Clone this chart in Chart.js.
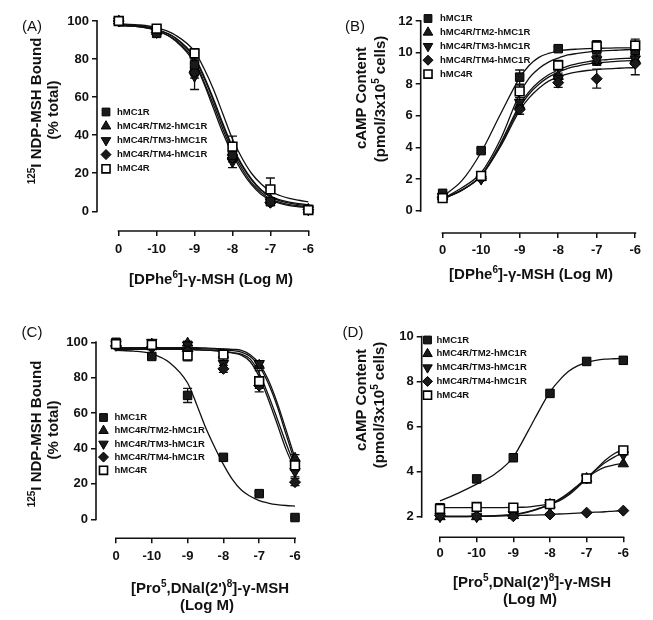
<!DOCTYPE html>
<html>
<head>
<meta charset="utf-8">
<title>MC receptor chimeras</title>
<script src="https://cdn.jsdelivr.net/npm/chart.js@4.4.1/dist/chart.umd.min.js"></script>
<style>
  html, body { margin: 0; padding: 0; background: #fff; }
  body { position: relative; width: 653px; height: 620px; overflow: hidden; font-family: "Liberation Sans", Arial, sans-serif; color: #111; }
  canvas { position: absolute; }
  .txt { position: absolute; white-space: nowrap; transform: translate(-50%, -50%); line-height: 1; }
  .tag { font-size: 15px; }
  .ttl { font-size: 15px; font-weight: bold; }
  .rot { transform: translate(-50%, -50%) rotate(-90deg); }
  sup { font-size: 10px; line-height: 0; vertical-align: 0.6em; }
</style>
</head>
<body>
<canvas id="cA" width="326" height="300" style="left:0;top:0"></canvas>
<canvas id="cB" width="323" height="300" style="left:330px;top:0"></canvas>
<canvas id="cC" width="326" height="310" style="left:0;top:310px"></canvas>
<canvas id="cD" width="323" height="310" style="left:330px;top:310px"></canvas>

<div class="txt tag" style="left:32px;top:25px">(A)</div>
<div class="txt ttl rot" style="left:35px;top:111px"><sup>125</sup>I NDP-MSH Bound</div>
<div class="txt ttl rot" style="left:52px;top:110px">(% total)</div>
<div class="txt ttl" style="left:211px;top:278px">[DPhe<sup>6</sup>]-γ-MSH (Log M)</div>

<div class="txt tag" style="left:355px;top:25px">(B)</div>
<div class="txt ttl rot" style="left:360px;top:98px">cAMP Content</div>
<div class="txt ttl rot" style="left:379px;top:99px">(pmol/3x10<sup>5</sup> cells)</div>
<div class="txt ttl" style="left:531px;top:273px">[DPhe<sup>6</sup>]-γ-MSH (Log M)</div>

<div class="txt tag" style="left:32px;top:331px">(C)</div>
<div class="txt ttl rot" style="left:35px;top:434px"><sup>125</sup>I NDP-MSH Bound</div>
<div class="txt ttl rot" style="left:52px;top:430px">(% total)</div>
<div class="txt ttl" style="left:210px;top:587px">[Pro<sup>5</sup>,DNal(2')<sup>8</sup>]-γ-MSH</div>
<div class="txt ttl" style="left:207px;top:604px">(Log M)</div>

<div class="txt tag" style="left:353px;top:331px">(D)</div>
<div class="txt ttl rot" style="left:360px;top:400px">cAMP Content</div>
<div class="txt ttl rot" style="left:378px;top:405px">(pmol/3x10<sup>5</sup> cells)</div>
<div class="txt ttl" style="left:532px;top:581px">[Pro<sup>5</sup>,DNal(2')<sup>8</sup>]-γ-MSH</div>
<div class="txt ttl" style="left:530px;top:598px">(Log M)</div>

<script>
  // broken x axis: slot 0 is "no ligand", then -10 .. -6 log M
  var dosePos = [0, 1, 2, 3, 4, 5];
  var doseLabels = ['0', '-10', '-9', '-8', '-7', '-6'];
  var fitPos = [0, 0.5, 1, 1.5, 2, 2.25, 2.5, 2.75, 3, 3.25, 3.5, 3.75, 4, 4.25, 4.5, 4.75, 5];

  var seriesNames = ['hMC1R', 'hMC4R/TM2-hMC1R', 'hMC4R/TM3-hMC1R', 'hMC4R/TM4-hMC1R', 'hMC4R'];

  // (A) binding, [DPhe6]-γ-MSH
  var aMC1R = [100, 93.5, 77, 29.5, 5, 1];
  var aTM2  = [100, 94.5, 75, 31, 6, 1];
  var aTM3  = [100, 94, 71, 26, 5, 0.8];
  var aTM4  = [100, 94, 73, 28, 4.5, 0.8];
  var aMC4R = [100, 96, 83, 34, 11.5, 0.7];
  var aMC1Rerr = [0, 1.5, 3, 2, 1, 0];
  var aTM2err  = [0, 1, 3, 2, 1, 0];
  var aTM3err  = [0, 1.5, 7, 3, 1, 0];
  var aTM4err  = [0, 1, 3, 2, 1, 0];
  var aMC4Rerr = [0, 1, 2.5, 5.5, 6, 0.5];
  var aMC1Rfit = [98, 97.5, 95.5, 91, 81, 71, 59, 46, 34, 24.5, 17, 11.5, 8, 6, 4.8, 4, 3.5];
  var aTM2fit  = [98, 97.5, 95.5, 91, 80.5, 70, 58, 45, 33, 24, 16.5, 11, 7.5, 5.5, 4.3, 3.5, 3];
  var aTM3fit  = [97.5, 97, 95, 89.5, 78, 67, 54, 41, 30, 21, 14, 9, 6, 4.2, 3, 2.4, 2];
  var aTM4fit  = [97.5, 97, 95, 90, 79, 68, 56, 43, 31.5, 22.5, 15, 10, 6.5, 4.7, 3.5, 2.9, 2.5];
  var aMC4Rfit = [98.5, 98, 96.5, 92.5, 84, 75, 64, 51, 38, 28, 20, 14.5, 10.5, 8.3, 6.8, 5.8, 5];

  // (B) cAMP, [DPhe6]-γ-MSH
  var bMC1R = [1.1, 3.8, 8.45, 10.25, 10.2, 10.15];
  var bTM2  = [0.9, 2.1, 6.65, 8.5, 9.5, 9.55];
  var bTM3  = [0.9, 2.0, 6.85, 8.35, 9.55, 9.6];
  var bTM4  = [0.85, 2.05, 6.4, 8.1, 8.35, 9.3];
  var bMC4R = [0.8, 2.2, 7.55, 9.2, 10.4, 10.45];
  var bMC1Rerr = [0.1, 0.15, 0.45, 0.15, 0.2, 0.2];
  var bTM2err  = [0.1, 0.1, 0.3, 0.2, 0.3, 0.3];
  var bTM3err  = [0.1, 0.1, 0.3, 0.25, 0.3, 0.3];
  var bTM4err  = [0.1, 0.1, 0.3, 0.3, 0.6, 0.7];
  var bMC4Rerr = [0.1, 0.1, 0.4, 0.3, 0.35, 0.4];
  var bMC1Rfit = [0.9, 1.9, 3.7, 6.1, 8.4, 9.2, 9.7, 9.95, 10.1, 10.18, 10.22, 10.25, 10.27, 10.28, 10.3, 10.3, 10.3];
  var bTM2fit  = [0.75, 1.3, 2.2, 4.15, 6.55, 7.4, 8.0, 8.45, 8.75, 9.0, 9.15, 9.27, 9.35, 9.4, 9.45, 9.48, 9.5];
  var bTM3fit  = [0.75, 1.3, 2.25, 4.25, 6.7, 7.55, 8.15, 8.6, 8.9, 9.15, 9.3, 9.42, 9.5, 9.55, 9.6, 9.63, 9.65];
  var bTM4fit  = [0.75, 1.3, 2.2, 4.05, 6.35, 7.15, 7.75, 8.2, 8.45, 8.65, 8.78, 8.87, 8.93, 8.97, 9.0, 9.03, 9.05];
  var bMC4Rfit = [0.75, 1.45, 2.4, 4.5, 7.4, 8.4, 9.0, 9.4, 9.65, 9.85, 9.95, 10.03, 10.1, 10.12, 10.15, 10.18, 10.2];

  // (C) binding, [Pro5,DNal(2')8]-γ-MSH
  var cMC1R = [100, 92, 70, 35, 14.5, 1];
  var cTM2  = [99, 99, 99.5, 93, 87, 34.5];
  var cTM3  = [99, 100, 98.5, 88, 88, 27];
  var cTM4  = [98, 97, 95, 85, 75.5, 21];
  var cMC4R = [99, 98.5, 92.5, 93, 78, 30.5];
  var cMC1Rerr = [0, 1, 4, 1, 1, 0.5];
  var cTM2err  = [0, 1, 1, 1, 1.5, 2];
  var cTM3err  = [0, 1, 2, 3, 1.5, 3];
  var cTM4err  = [0, 1, 1, 2, 1.5, 2];
  var cMC4Rerr = [0, 1, 3, 1.5, 6, 3];
  var cMC1Rfit = [95.5, 95, 93.5, 88.5, 77, 65, 52, 41, 31, 22.5, 16.5, 13, 10.5, 9.2, 8.3, 7.8, 7.5];
  var cTM2fit  = [97, 97, 97, 97, 97, 97, 96.8, 96.6, 96.3, 96, 95.5, 93, 88, 79, 66, 50.5, 34.5];
  var cTM3fit  = [96.5, 96.5, 96.5, 96.5, 96.5, 96.4, 96.3, 96.1, 95.8, 95.3, 94.5, 92, 86.5, 77, 64, 48, 32];
  var cTM4fit  = [96, 96, 96, 96, 96, 95.8, 95.6, 95.3, 94.8, 94, 92.8, 89, 80.5, 68, 54, 39.5, 28];
  var cMC4Rfit = [96, 96, 96, 96, 96, 95.8, 95.6, 95.3, 94.8, 94.2, 93.3, 90.5, 82.5, 70.5, 57, 43, 30];

  // (D) cAMP, [Pro5,DNal(2')8]-γ-MSH
  var dMC1R = [2.4, 3.68, 4.62, 7.48, 8.9, 8.95];
  var dTM2  = [2.0, 2.0, 2.05, 2.55, 3.7, 4.35];
  var dTM3  = [2.0, 2.0, 2.1, 2.5, 3.72, 4.75];
  var dTM4  = [2.05, 2.02, 2.02, 2.1, 2.18, 2.27];
  var dMC4R = [2.35, 2.43, 2.4, 2.56, 3.7, 4.95];
  var dMC1Rerr = [0, 0, 0, 0, 0, 0];
  var dTM2err  = [0, 0, 0, 0, 0, 0];
  var dTM3err  = [0, 0, 0, 0, 0, 0];
  var dTM4err  = [0, 0, 0, 0, 0, 0];
  var dMC4Rerr = [0, 0, 0, 0, 0, 0];
  var dMC1Rfit = [2.7, 3.05, 3.45, 3.9, 4.65, 5.35, 6.1, 6.85, 7.55, 8.05, 8.45, 8.7, 8.86, 8.95, 9.0, 9.02, 9.04];
  var dTM2fit  = [2.0, 2.0, 2.02, 2.05, 2.1, 2.17, 2.27, 2.4, 2.55, 2.75, 3.0, 3.35, 3.7, 4.0, 4.2, 4.3, 4.37];
  var dTM3fit  = [2.0, 2.0, 2.01, 2.03, 2.08, 2.15, 2.25, 2.38, 2.55, 2.77, 3.05, 3.38, 3.72, 4.08, 4.4, 4.65, 4.85];
  var dTM4fit  = [2.02, 2.02, 2.03, 2.04, 2.05, 2.06, 2.07, 2.08, 2.1, 2.12, 2.14, 2.16, 2.18, 2.2, 2.22, 2.25, 2.27];
  var dMC4Rfit = [2.4, 2.4, 2.4, 2.4, 2.41, 2.42, 2.45, 2.5, 2.58, 2.7, 2.95, 3.3, 3.7, 4.1, 4.5, 4.8, 4.98];

  var FONT = '"Liberation Sans", Arial, sans-serif';
  Chart.defaults.font.family = FONT;
  Chart.defaults.color = '#111';

  // marker per series: filled square, triangle, inverted triangle, diamond, open square
  var markStyle = ['rect', 'triangle', 'triangle', 'rectRot', 'rect'];
  var markRot   = [0, 0, 180, 0, 0];
  var markSize  = [6, 6, 6, 5.5, 6.2];
  var markFill  = ['#1a1a1a', '#1a1a1a', '#1a1a1a', '#1a1a1a', '#ffffff'];
  var markEdge  = [1, 1, 1, 1, 1.6];
  var drawOrder = [4, 0, 3, 2, 1]; // open square on top

  function toXY(xs, ys) {
    return ys.map(function(v, i) { return { x: xs[i], y: v }; });
  }

  var errorBars = {
    id: 'errorBars',
    beforeDatasetsDraw: function(chart) {
      var ctx = chart.ctx, xs = chart.scales.x, ys = chart.scales.y;
      ctx.save();
      ctx.strokeStyle = '#111';
      ctx.lineWidth = 1.3;
      chart.data.datasets.forEach(function(ds) {
        if (!ds.errors) return;
        ds.data.forEach(function(pt, i) {
          var e = ds.errors[i];
          if (!e) return;
          var px = xs.getPixelForValue(pt.x);
          var top = ys.getPixelForValue(pt.y + e), bot = ys.getPixelForValue(pt.y - e);
          ctx.beginPath();
          ctx.moveTo(px, top); ctx.lineTo(px, bot);
          ctx.moveTo(px - 4.5, top); ctx.lineTo(px + 4.5, top);
          ctx.moveTo(px - 4.5, bot); ctx.lineTo(px + 4.5, bot);
          ctx.stroke();
        });
      });
      ctx.restore();
    }
  };

  // the axes in the figure are detached: y line spans only the ticks, x line sits lower
  var axisLines = {
    id: 'axisLines',
    afterDraw: function(chart, args, o) {
      var ctx = chart.ctx, xs = chart.scales.x, ys = chart.scales.y, ca = chart.chartArea;
      ctx.save();
      ctx.strokeStyle = '#111';
      ctx.lineWidth = 1.6;
      ctx.beginPath();
      ctx.moveTo(ca.left, ys.getPixelForValue(o.yTo) - 1);
      ctx.lineTo(ca.left, ys.getPixelForValue(o.yFrom) + 1);
      ctx.moveTo(xs.getPixelForValue(dosePos[0]) - 1, ca.bottom);
      ctx.lineTo(xs.getPixelForValue(dosePos[dosePos.length - 1]) + 1, ca.bottom);
      ctx.stroke();
      ctx.restore();
    }
  };

  var inLegend = {
    id: 'inLegend',
    afterDatasetsDraw: function(chart, args, o) {
      var ctx = chart.ctx;
      ctx.save();
      ctx.font = 'bold 9.5px ' + FONT;
      ctx.textBaseline = 'middle';
      seriesNames.forEach(function(name, i) {
        var y = o.y + i * o.step;
        ctx.fillStyle = markFill[i];
        ctx.strokeStyle = '#000';
        ctx.lineWidth = markEdge[i];
        Chart.helpers.drawPoint(ctx, {
          pointStyle: markStyle[i], radius: markSize[i] - 0.5, rotation: markRot[i], borderWidth: markEdge[i]
        }, o.x, y);
        ctx.fillStyle = '#111';
        ctx.fillText(name, o.textX, y);
      });
      ctx.restore();
    }
  };

  function panel(id, box, pts, errs, fits, yTicks, leg) {
    var ux = (box.xPix[1] - box.xPix[0]) / 5;
    var uy = (box.yPix[0] - box.yPix[1]) / (box.yVal[1] - box.yVal[0]);
    var xMin = (box.l - box.xPix[0]) / ux;
    var xMax = (box.r - box.xPix[0]) / ux;
    var yMax = box.yVal[0] + (box.yPix[0] - box.t) / uy;
    var yMin = box.yVal[0] - (box.b - box.yPix[0]) / uy;

    var datasets = [];
    drawOrder.forEach(function(k) {
      datasets.push({
        label: seriesNames[k],
        data: toXY(dosePos, pts[k]),
        errors: errs[k],
        showLine: false,
        pointStyle: markStyle[k],
        pointRotation: markRot[k],
        pointRadius: markSize[k],
        pointBackgroundColor: markFill[k],
        pointBorderColor: '#000',
        pointBorderWidth: markEdge[k],
        clip: false
      });
    });
    fits.forEach(function(f, k) {
      datasets.push({
        label: seriesNames[k] + ' fit',
        data: toXY(fitPos, f),
        showLine: true,
        pointRadius: 0,
        borderColor: '#111',
        borderWidth: 1.3,
        cubicInterpolationMode: 'monotone',
        fill: false
      });
    });

    new Chart(document.getElementById(id), {
      type: 'line',
      data: { datasets: datasets },
      options: {
        responsive: false,
        animation: false,
        events: [],
        layout: { padding: { left: 0, bottom: 0, top: box.t - box.ct, right: box.cl + box.cw - box.r } },
        plugins: {
          legend: { display: false },
          tooltip: { enabled: false },
          axisLines: { yFrom: yTicks[0], yTo: yTicks[yTicks.length - 1] },
          inLegend: { x: leg.x - box.cl, textX: leg.textX - box.cl, y: leg.y - box.ct, step: leg.step }
        },
        scales: {
          x: {
            type: 'linear',
            min: xMin,
            max: xMax,
            afterBuildTicks: function(s) { s.ticks = dosePos.map(function(v) { return { value: v }; }); },
            afterFit: function(s) { s.height = box.ct + box.ch - box.b; },
            border: { display: false },
            grid: { drawOnChartArea: false, tickLength: 5, color: '#111', lineWidth: 1.5 },
            ticks: {
              autoSkip: false, maxRotation: 0, padding: box.xPad,
              font: { size: 13, weight: 'bold' }, color: '#111',
              callback: function(v) { return doseLabels[dosePos.indexOf(v)]; }
            }
          },
          y: {
            min: yMin,
            max: yMax,
            afterBuildTicks: function(s) { s.ticks = yTicks.map(function(v) { return { value: v }; }); },
            afterFit: function(s) { s.width = box.l - box.cl; },
            border: { display: false },
            grid: { drawOnChartArea: false, tickLength: 5, color: '#111', lineWidth: 1.5 },
            ticks: { padding: 3, font: { size: 13, weight: 'bold' }, color: '#111' }
          }
        }
      },
      plugins: [errorBars, axisLines, inLegend]
    });
  }

  var bindTicks = [0, 20, 40, 60, 80, 100];

  panel('cA',
    { cl: 0, ct: 0, cw: 326, ch: 300, l: 97, t: 14, r: 321, b: 231, xPix: [119, 311], yVal: [0, 100], yPix: [211.3, 21], xPad: 6 },
    [aMC1R, aTM2, aTM3, aTM4, aMC4R],
    [aMC1Rerr, aTM2err, aTM3err, aTM4err, aMC4Rerr],
    [aMC1Rfit, aTM2fit, aTM3fit, aTM4fit, aMC4Rfit],
    bindTicks,
    { x: 106, textX: 117, y: 112, step: 14.2 });

  panel('cB',
    { cl: 330, ct: 0, cw: 323, ch: 300, l: 420.7, t: 14, r: 646, b: 233, xPix: [442.7, 636], yVal: [0, 12], yPix: [210.7, 21], xPad: 5 },
    [bMC1R, bTM2, bTM3, bTM4, bMC4R],
    [bMC1Rerr, bTM2err, bTM3err, bTM4err, bMC4Rerr],
    [bMC1Rfit, bTM2fit, bTM3fit, bTM4fit, bMC4Rfit],
    [0, 2, 4, 6, 8, 10, 12],
    { x: 428, textX: 440, y: 18.5, step: 13.9 });

  panel('cC',
    { cl: 0, ct: 310, cw: 326, ch: 310, l: 96, t: 335, r: 304, b: 538.3, xPix: [116, 295], yVal: [0, 100], yPix: [519.3, 342.3], xPad: 5 },
    [cMC1R, cTM2, cTM3, cTM4, cMC4R],
    [cMC1Rerr, cTM2err, cTM3err, cTM4err, cMC4Rerr],
    [cMC1Rfit, cTM2fit, cTM3fit, cTM4fit, cMC4Rfit],
    bindTicks,
    { x: 103.5, textX: 114.5, y: 417.5, step: 13.2 });

  panel('cD',
    { cl: 330, ct: 310, cw: 323, ch: 310, l: 421.7, t: 330, r: 633, b: 537.3, xPix: [440, 623.3], yVal: [2, 10], yPix: [516.7, 336.7], xPad: 3 },
    [dMC1R, dTM2, dTM3, dTM4, dMC4R],
    [dMC1Rerr, dTM2err, dTM3err, dTM4err, dMC4Rerr],
    [dMC1Rfit, dTM2fit, dTM3fit, dTM4fit, dMC4Rfit],
    [2, 4, 6, 8, 10],
    { x: 427.5, textX: 436.5, y: 340, step: 13.8 });
</script>
</body>
</html>
